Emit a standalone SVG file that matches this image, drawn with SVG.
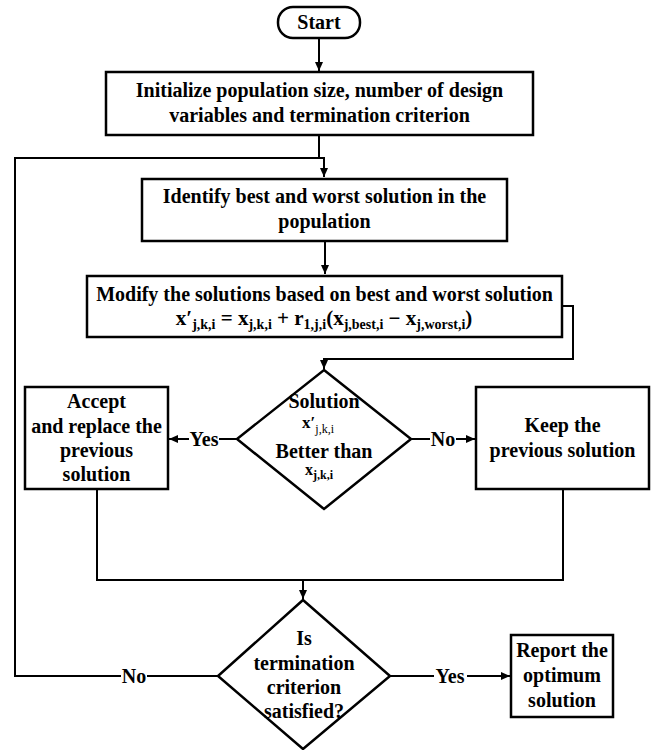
<svg xmlns="http://www.w3.org/2000/svg" width="656" height="750" viewBox="0 0 656 750">
<style>
.box{fill:#fff;stroke:#000;stroke-width:2.5}
.ln{fill:none;stroke:#000;stroke-width:2}
.t{font-family:"Liberation Serif","Times New Roman",serif;font-weight:bold;font-size:20px;text-anchor:middle;fill:#000}
.sub{font-size:14px}
.subn{font-size:12px;font-weight:normal}
.subb{font-size:12px}
</style>
<defs>
<marker id="ah" markerUnits="userSpaceOnUse" markerWidth="10" markerHeight="10" refX="9" refY="5" orient="auto">
<path d="M0,1 L9,5 L0,9 z" fill="#000"/>
</marker>
</defs>
<rect width="656" height="750" fill="#fff"/>
<g id="connectors">
<path class="ln" d="M319,38 V71" marker-end="url(#ah)"/>
<path class="ln" d="M319,135 V158"/>
<path class="ln" d="M218,676 H147 M121,676 H15 V158 H324 V177" marker-end="url(#ah)"/>
<path class="ln" d="M325,241 V274" marker-end="url(#ah)"/>
<path class="ln" d="M562,306 H573 V359 H324 V369" marker-end="url(#ah)"/>
<path class="ln" d="M237,439 H219"/>
<path class="ln" d="M189,439 H169" marker-end="url(#ah)"/>
<path class="ln" d="M411,439 H430"/>
<path class="ln" d="M456,439 H475" marker-end="url(#ah)"/>
<path class="ln" d="M97,489 V580 H563 V489"/>
<path class="ln" d="M303,580 V599" marker-end="url(#ah)"/>
<path class="ln" d="M390,676 H434"/>
<path class="ln" d="M467,676 H510" marker-end="url(#ah)"/>
<text class="t" x="204" y="446">Yes</text>
<text class="t" x="443" y="446">No</text>
<text class="t" x="134" y="683">No</text>
<text class="t" x="450" y="683">Yes</text>
</g>
<g id="start">
<rect class="box" x="278" y="7" width="82" height="31" rx="15" ry="15"/>
<text class="t" x="319" y="29">Start</text>
</g>
<g id="init">
<rect class="box" x="106" y="72" width="427" height="63"/>
<text class="t" x="319.5" y="97">Initialize population size, number of design</text>
<text class="t" x="319.5" y="122">variables and termination criterion</text>
</g>
<g id="identify">
<rect class="box" x="142" y="179" width="365" height="62"/>
<text class="t" x="324.5" y="203">Identify best and worst solution in the</text>
<text class="t" x="324.5" y="228">population</text>
</g>
<g id="modify">
<rect class="box" x="87" y="276" width="475" height="61"/>
<text class="t" x="324.5" y="301">Modify the solutions based on best and worst solution</text>
<text class="t" x="324" y="325" style="font-size:21px">x′<tspan class="sub" dy="4">j,k,i</tspan><tspan dy="-4"> =  x</tspan><tspan class="sub" dy="4">j,k,i</tspan><tspan dy="-4"> + r</tspan><tspan class="sub" dy="4">1,j,i</tspan><tspan dy="-4">(x</tspan><tspan class="sub" dy="4">j,best,i</tspan><tspan dy="-4"> − x</tspan><tspan class="sub" dy="4">j,worst,i</tspan><tspan dy="-4">)</tspan></text>
</g>
<g id="decision1">
<polygon class="box" points="324,370 411,439 324,509 237,439"/>
<text class="t" x="324" y="408">Solution</text>
<text class="t" x="318" y="428" style="font-size:17px">x′<tspan class="subn" dy="5">j,k,i</tspan></text>
<text class="t" x="324" y="458">Better than</text>
<text class="t" x="319" y="475" style="font-size:16px">x<tspan class="subb" dy="4">j,k,i</tspan></text>
</g>
<g id="accept">
<rect class="box" x="25" y="387" width="143" height="102"/>
<text class="t" x="96.5" y="408">Accept</text>
<text class="t" x="96.5" y="433">and replace the</text>
<text class="t" x="96.5" y="457">previous</text>
<text class="t" x="96.5" y="481">solution</text>
</g>
<g id="keep">
<rect class="box" x="476" y="387" width="173" height="102"/>
<text class="t" x="562.5" y="432">Keep the</text>
<text class="t" x="562.5" y="457">previous solution</text>
</g>
<g id="decision2">
<polygon class="box" points="303,600 390,676 303,749 218,676"/>
<text class="t" x="304" y="645">Is</text>
<text class="t" x="304" y="670">termination</text>
<text class="t" x="304" y="694">criterion</text>
<text class="t" x="304" y="718">satisfied?</text>
</g>
<g id="report">
<rect class="box" x="511" y="635" width="102" height="82"/>
<text class="t" x="562" y="657">Report the</text>
<text class="t" x="562" y="682">optimum</text>
<text class="t" x="562" y="707">solution</text>
</g>
</svg>
